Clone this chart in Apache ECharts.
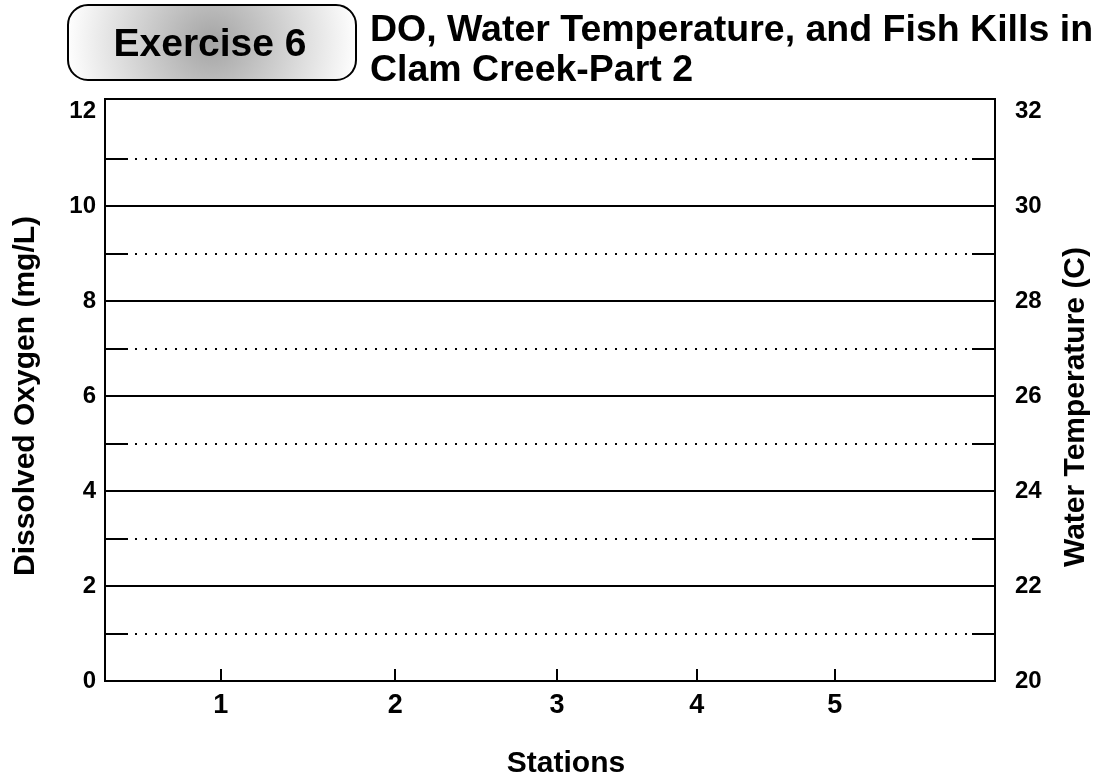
<!DOCTYPE html>
<html>
<head>
<meta charset="utf-8">
<title>DO, Water Temperature, and Fish Kills in Clam Creek-Part 2</title>
<script src="https://cdn.jsdelivr.net/npm/echarts@6/dist/echarts.min.js"></script>
<style>
  html, body { margin: 0; padding: 0; background: #fff; }
  #chart { width: 1099px; height: 780px; }
</style>
</head>
<body>
<div id="chart"></div>
<script>
// station positions along the creek (relative distance, 0-100) and their labels
const stationPos = [13, 32.6, 50.8, 66.5, 82];
const stationLabels = ['1', '2', '3', '4', '5'];

// tick labels
const doLabels = [0, 2, 4, 6, 8, 10, 12];          // mg/L, labelled
const doDotted = [1, 3, 5, 7, 9, 11];              // dotted grid + short ticks
const doSolid = [2, 4, 6, 8, 10];                  // solid grid lines
const tempLabels = [20, 22, 24, 26, 28, 30, 32];   // deg C
const tempTicks = [21, 23, 25, 27, 29, 31];

// the worksheet is blank: nothing plotted yet
const doValues = [];
const tempValues = [];

const FONT = 'Liberation Sans';
const chart = echarts.init(document.getElementById('chart'));

const option = {
    backgroundColor: '#fff',
    animation: false,
    title: {
        text: 'DO, Water Temperature, and Fish Kills in\nClam Creek-Part 2',
        left: 370,
        top: 11,
        padding: 0,
        textStyle: { fontFamily: FONT, fontSize: 37.5, fontWeight: 'bold', color: '#000', lineHeight: 40 }
    },
    graphic: [{
        type: 'group',
        left: 67,
        top: 4,
        children: [
            {
                type: 'rect',
                shape: { x: 0, y: 0, width: 288, height: 75, r: 20 },
                style: {
                    fill: {
                        type: 'radial', x: 0.5, y: 0.5, r: 1.9,
                        colorStops: [
                            { offset: 0, color: '#a4a4a4' },
                            { offset: 1, color: '#ffffff' }
                        ]
                    },
                    stroke: '#000',
                    lineWidth: 2
                }
            },
            {
                type: 'text',
                style: {
                    text: 'Exercise 6', x: 142, y: 40,
                    align: 'center', verticalAlign: 'middle',
                    font: 'bold 39px ' + FONT, fill: '#000'
                }
            }
        ]
    }],
    grid: {
        left: 105, right: 104, top: 99, bottom: 99,
        outerBoundsMode: 'none',
        containLabel: false,
        show: true, borderColor: '#000', borderWidth: 2, backgroundColor: 'transparent'
    },
    xAxis: {
        type: 'value',
        min: 0,
        max: 100,
        name: 'Stations',
        nameLocation: 'middle',
        nameGap: 68,
        nameTextStyle: { fontFamily: FONT, fontSize: 30, fontWeight: 'bold', color: '#000', padding: [0, 0, 0, 32] },
        axisLine: { lineStyle: { color: '#000', width: 2 } },
        axisTick: { inside: true, length: 12, lineStyle: { color: '#000', width: 2 }, customValues: stationPos },
        axisLabel: {
            customValues: stationPos,
            formatter: v => stationLabels[stationPos.indexOf(v)],
            fontFamily: FONT, fontSize: 27, fontWeight: 'bold', color: '#000', margin: 11
        },
        splitLine: { show: false }
    },
    yAxis: [
        {
            type: 'value',
            position: 'left',
            min: 0,
            max: 12.25,
            name: 'Dissolved Oxygen (mg/L)',
            nameLocation: 'middle',
            nameGap: 64,
            nameRotate: 90,
            nameTextStyle: { fontFamily: FONT, fontSize: 30, fontWeight: 'bold', color: '#000', padding: [0, 12, 0, 0] },
            axisLine: { show: true, lineStyle: { color: '#000', width: 2 } },
            axisTick: { show: true, inside: true, length: 23, lineStyle: { color: '#000', width: 2 }, customValues: doDotted },
            axisLabel: { customValues: doLabels, fontFamily: FONT, fontSize: 24, fontWeight: 'bold', color: '#000', margin: 9 },
            splitLine: { show: true, lineStyle: { color: '#000', width: 2, type: [2, 8] } }
        },
        {
            type: 'value',
            position: 'right',
            min: 20,
            max: 32.25,
            name: 'Water Temperature (C)',
            nameLocation: 'middle',
            nameGap: 66,
            nameRotate: 90,
            nameTextStyle: { fontFamily: FONT, fontSize: 30, fontWeight: 'bold', color: '#000', padding: [0, 34, 0, 0] },
            axisLine: { show: true, lineStyle: { color: '#000', width: 2 } },
            axisTick: { show: true, inside: true, length: 23, lineStyle: { color: '#000', width: 2 }, customValues: tempTicks },
            axisLabel: { customValues: tempLabels, fontFamily: FONT, fontSize: 24, fontWeight: 'bold', color: '#000', margin: 20 },
            splitLine: { show: false }
        },
        {
            // helper axis on the DO scale for the solid grid lines
            type: 'value',
            position: 'left',
            min: 0,
            max: 12.25,
            axisLine: { show: false },
            axisTick: { show: false, customValues: doSolid },
            axisLabel: { show: false },
            splitLine: { show: true, lineStyle: { color: '#000', width: 2, type: 'solid' } }
        }
    ],
    series: [
        { name: 'Dissolved Oxygen', type: 'line', xAxisIndex: 0, yAxisIndex: 0, data: doValues },
        { name: 'Water Temperature', type: 'line', xAxisIndex: 0, yAxisIndex: 1, data: tempValues }
    ]
};

chart.setOption(option);
</script>
</body>
</html>
